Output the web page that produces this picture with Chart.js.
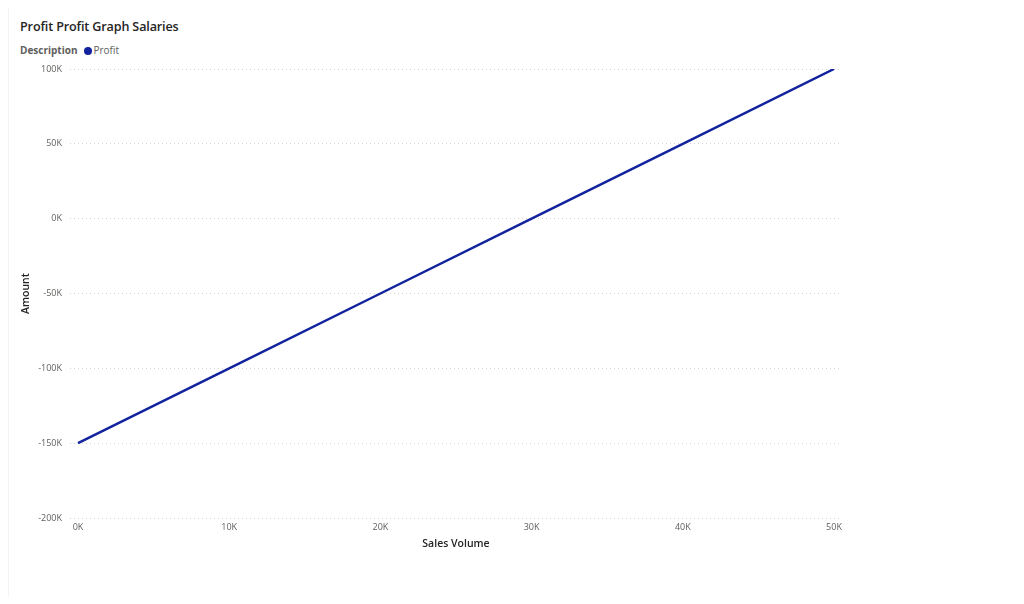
<!DOCTYPE html>
<html>
<head>
<meta charset="utf-8">
<script src="https://cdn.jsdelivr.net/npm/chart.js@4/dist/chart.umd.min.js"></script>
<style>
  html, body { margin: 0; padding: 0; background: #fff; }
  #wrap { position: relative; width: 1024px; height: 604px; overflow: hidden; }
  #frame { position: absolute; left: 8px; top: 8px; width: 1010px; height: 589px; border-left: 1px solid #f3f3f3; }
  #title { position: absolute; left: 20px; top: 18px; font-family: "Open Sans", sans-serif; font-size: 12.6px; font-weight: 600; color: #252423; letter-spacing: -0.15px; }
  #legend { position: absolute; left: 20px; top: 43px; font-family: "Open Sans", sans-serif; font-size: 10px; color: #605E5C; white-space: nowrap; }
  #legend b { font-weight: 700; margin-right: 6px; }
  #legend .dot { display: inline-block; width: 8px; height: 8px; border-radius: 50%; background: #12239E; vertical-align: -0.5px; margin-right: 2px; }
  canvas { position: absolute; left: 0; top: 0; }
</style>
</head>
<body>
<div id="wrap">
  <div id="frame"></div>
  <div id="title">Profit Profit Graph Salaries</div>
  <div id="legend"><b>Description</b><span class="dot"></span>Profit</div>
  <canvas id="profitChart" width="1024" height="604"></canvas>
</div>
<script>
// data
var salesVolume = [0, 10000, 20000, 30000, 40000, 50000];
var profit = [-150000, -100000, -50000, 0, 50000, 100000];
var xTicks = [0, 10000, 20000, 30000, 40000, 50000];
var yTicks = [-200000, -150000, -100000, -50000, 0, 50000, 100000];

function kLabel(v) {
    return Math.round(v / 1000) + 'K';
}

document.addEventListener("DOMContentLoaded", function () {
    var ctx = document.getElementById('profitChart').getContext('2d');

    var points = salesVolume.map(function (x, i) {
        return { x: x, y: profit[i] };
    });

    new Chart(ctx, {
        type: 'line',
        data: {
            datasets: [{
                label: 'Profit',
                data: points,
                borderColor: '#12239E',
                backgroundColor: '#12239E',
                borderWidth: 2.5,
                pointRadius: 0,
                tension: 0
            }]
        },
        options: {
            responsive: false,
            animation: false,
            layout: {
                padding: { top: 69, right: 182, bottom: 50, left: 0 }
            },
            plugins: {
                legend: { display: false },
                tooltip: { enabled: false }
            },
            scales: {
                x: {
                    type: 'linear',
                    min: -530,
                    max: 50530,
                    afterBuildTicks: function (scale) {
                        scale.ticks = xTicks.map(function (v) { return { value: v }; });
                    },
                    afterFit: function (scale) { scale.height = 36; },
                    grid: { display: false, drawTicks: false },
                    border: { display: false },
                    ticks: {
                        callback: kLabel,
                        padding: 4,
                        maxRotation: 0,
                        color: '#605E5C',
                        font: { family: 'Open Sans', size: 9 }
                    },
                    title: {
                        display: true,
                        text: 'Sales Volume',
                        color: '#252423',
                        padding: { top: 0, bottom: 4 },
                        font: { family: 'Open Sans', size: 10.5, weight: '600' }
                    }
                },
                y: {
                    min: -200000,
                    max: 100000,
                    afterBuildTicks: function (scale) {
                        scale.ticks = yTicks.map(function (v) { return { value: v }; });
                    },
                    afterFit: function (scale) { scale.width = 70; },
                    grid: {
                        color: '#d2d2d2',
                        lineWidth: 1,
                        drawTicks: false
                    },
                    border: { display: false, dash: [1, 3] },
                    ticks: {
                        callback: kLabel,
                        padding: 8,
                        color: '#605E5C',
                        font: { family: 'Open Sans', size: 9 }
                    },
                    title: {
                        display: true,
                        text: 'Amount',
                        color: '#252423',
                        padding: { top: 20, bottom: 0 },
                        font: { family: 'Open Sans', size: 10.5, weight: '600' }
                    }
                }
            }
        }
    });
});
</script>
</body>
</html>
